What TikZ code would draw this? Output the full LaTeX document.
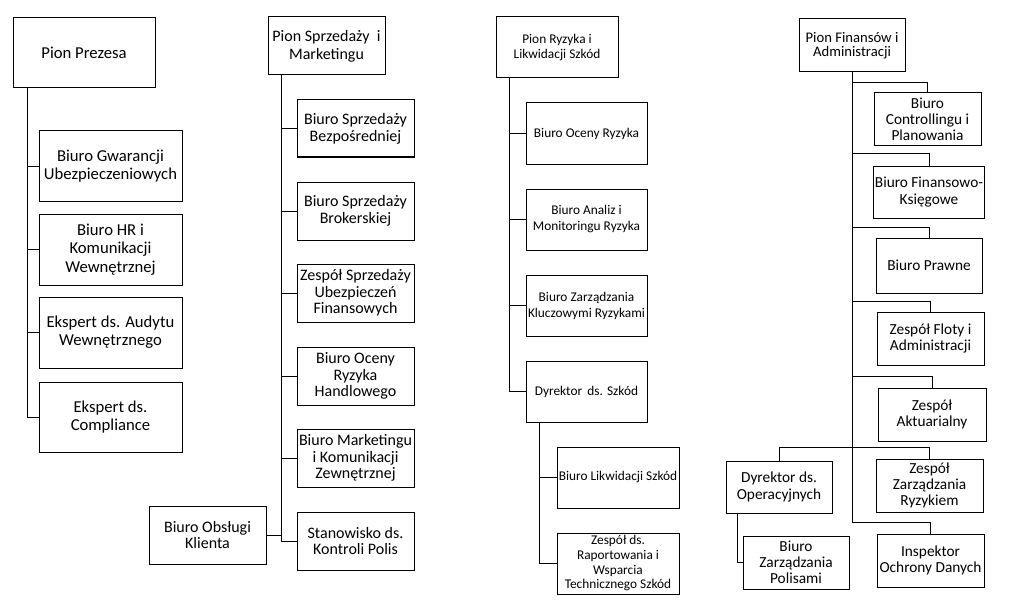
\documentclass[tikz,border=0pt]{standalone}
\usepackage{fontspec}
\setmainfont{Carlito}
\usetikzlibrary{calc}
\tikzset{
  box/.style={draw=black, line width=0.75pt, inner sep=1pt, align=center, fill=white},
  fA/.style={font=\fontsize{12.5}{13.7}\selectfont},
  fB/.style={font=\fontsize{12}{13.5}\selectfont},
  fBc/.style={font=\fontsize{12}{12.5}\selectfont},
  fC/.style={font=\fontsize{10}{11}\selectfont},
  fCc/.style={font=\fontsize{10}{12}\selectfont},
  fD/.style={font=\fontsize{11}{10.7}\selectfont},
  fDc/.style={font=\fontsize{11.5}{12.2}\selectfont},
  conn/.style={draw=black, line width=0.75pt},
}
\newcommand\bx[7]{\node[box,#7, minimum width={(#4-#2)*0.75pt}, minimum height={(#5-#3)*0.75pt}] (#1) at ({(#2+#4)/2},{(#3+#5)/2}) {#6};}
\begin{document}
\begin{tikzpicture}[x=0.75pt,y=-0.75pt]
\useasboundingbox (0,0) rectangle (1016,599);
% trunk x positions
\coordinate (c1) at (27,0);
\coordinate (c2) at (281,0);
\coordinate (c3) at (509,0);
\coordinate (c3b) at (539,0);
\coordinate (c4) at (852,0);
\coordinate (c4b) at (737,0);

% ---------- Column 1 ----------
\bx{pp}{13}{18}{155}{88}{Pion Prezesa}{fA}
\bx{bg}{39}{131}{182}{201}{Biuro Gwarancji\\Ubezpieczeniowych}{fA}
\bx{bhr}{39}{214}{182}{285}{Biuro HR i\\Komunikacji\\Wewnętrznej}{fA}
\bx{ea}{39}{297}{182}{368}{Ekspert ds. Audytu\\Wewnętrznego}{fA}
\bx{ec}{39}{382}{182}{452}{Ekspert ds.\\Compliance}{fA}
\draw[conn] (c1 |- pp.south) -- (c1 |- ec.west) -- (ec.west);
\foreach \n in {bg,bhr,ea} \draw[conn] (c1 |- \n.west) -- (\n.west);

% ---------- Column 2 ----------
\bx{ps}{268}{17}{385}{75}{Pion Sprzedaży \ i\\Marketingu}{fB}
\bx{bsb}{297}{100}{414}{157}{Biuro Sprzedaży\\Bezpośredniej}{fBc}
\bx{bsk}{297}{182}{414}{240}{Biuro Sprzedaży\\Brokerskiej}{fBc}
\bx{zsu}{297}{264}{414}{322}{Zespół Sprzedaży\\Ubezpieczeń\\Finansowych}{fBc}
\bx{borh}{297}{347}{414}{405}{Biuro Oceny\\Ryzyka\\Handlowego}{fBc}
\bx{bmk}{297}{429}{414}{487}{Biuro Marketingu\\i Komunikacji\\Zewnętrznej}{fBc}
\bx{skp}{297}{512}{414}{570}{Stanowisko ds.\\Kontroli Polis}{fBc}
\bx{bok}{149}{506}{266}{564}{Biuro Obsługi\\Klienta}{fBc}
\draw[conn] (c2 |- ps.south) -- (c2 |- skp.west) -- (skp.west);
\foreach \n in {bsb,bsk,zsu,borh,bmk} \draw[conn] (c2 |- \n.west) -- (\n.west);
\draw[conn] (bok.east) -- (c2 |- bok.east);

% ---------- Column 3 ----------
\bx{pr}{496}{17}{618}{78}{Pion Ryzyka i\\Likwidacji Szkód}{fC}
\bx{bor}{526}{103}{647}{164}{Biuro Oceny Ryzyka}{fCc}
\bx{bam}{526}{189}{647}{250}{Biuro Analiz i\\Monitoringu Ryzyka}{fCc}
\bx{bzk}{526}{275}{647}{336}{Biuro Zarządzania\\Kluczowymi Ryzykami}{fCc}
\bx{dsz}{526}{361}{647}{422}{Dyrektor \,ds. Szkód}{fCc}
\bx{bls}{557}{447}{679}{508}{Biuro Likwidacji Szkód}{fCc}
\bx{zrw}{557}{533}{679}{594}{Zespół ds.\\Raportowania i\\Wsparcia\\Technicznego Szkód}{fC}
\draw[conn] (c3 |- pr.south) -- (c3 |- dsz.west) -- (dsz.west);
\foreach \n in {bor,bam,bzk} \draw[conn] (c3 |- \n.west) -- (\n.west);
\draw[conn] (c3b |- dsz.south) -- (c3b |- zrw.west) -- (zrw.west);
\draw[conn] (c3b |- bls.west) -- (bls.west);

% ---------- Column 4 ----------
\bx{pf}{799}{19}{905}{72}{Pion Finansów i\\Administracji}{fD}
\bx{bcp}{874}{93}{981}{146}{Biuro\\Controllingu i\\Planowania}{fDc}
\bx{bfk}{876}{166}{982}{218}{Biuro Finansowo-\\Księgowe}{fDc}
\bx{bpr}{876}{238}{982}{293}{Biuro Prawne}{fDc}
\bx{zfa}{877}{312}{984}{365}{Zespół Floty i\\Administracji}{fDc}
\bx{zak}{878}{388}{986}{441}{Zespół\\Aktuarialny}{fDc}
\bx{zzr}{876}{459}{983}{512}{Zespół\\Zarządzania\\Ryzykiem}{fDc}
\bx{dop}{726}{461}{832}{513}{Dyrektor ds.\\Operacyjnych}{fDc}
\bx{iod}{877}{534}{984}{587}{Inspektor\\Ochrony Danych}{fDc}
\bx{bzp}{743}{536}{849}{589}{Biuro\\Zarządzania\\Polisami}{fDc}
\draw[conn] (c4 |- pf.south) -- ($(c4 |- iod.north)+(0,-11)$);
\draw[conn] (bcp.north) |- ($(c4 |- bcp.north)+(0,-10)$);
\draw[conn] (bfk.north) |- ($(c4 |- bfk.north)+(0,-12)$);
\draw[conn] (bpr.north) |- ($(c4 |- bpr.north)+(0,-10)$);
\draw[conn] (zfa.north) |- ($(c4 |- zfa.north)+(0,-10)$);
\draw[conn] (zak.north) |- ($(c4 |- zak.north)+(0,-11)$);
\draw[conn] (zzr.north) |- ($(c4 |- zzr.north)+(0,-11)$);
\draw[conn] (dop.north) |- ($(c4 |- zzr.north)+(0,-11)$);
\draw[conn] (iod.north) |- ($(c4 |- iod.north)+(0,-11)$);
\draw[conn] (c4b |- dop.south) -- (c4b |- bzp.west) -- (bzp.west);
\end{tikzpicture}
\end{document}
